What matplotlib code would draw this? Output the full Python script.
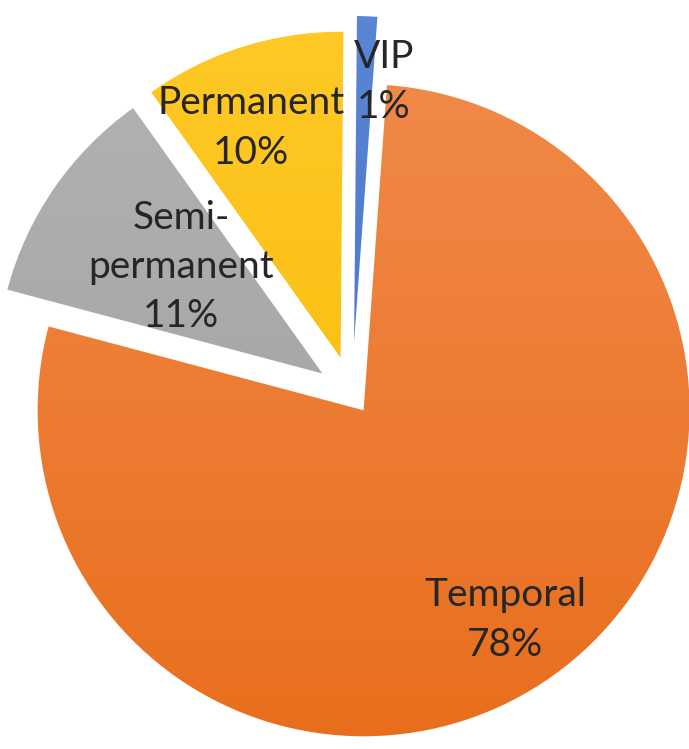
import numpy as np
import matplotlib.pyplot as plt
from matplotlib.colors import LinearSegmentedColormap

# slice data, clockwise from 12 o'clock
categories = ["VIP", "Temporal", "Semi-\npermanent", "Permanent"]
shares = [1, 78, 11, 10]

# look
top_colors = ["#5A86D6", "#F28C4E", "#B4B4B4", "#FFC928"]
bottom_colors = ["#3F6CC0", "#E86E1C", "#9C9C9C", "#F5B800"]
explode_px = [52, 20, 36, 38]   # pie explode is in data units here
label_pos = [(384, 82), (505, 620), (181, 267), (251, 128)]

W, H = 689, 749
fig = plt.figure(figsize=(W / 100, H / 100), dpi=100)
ax = fig.add_axes([0, 0, 1, 1])

wedges, _ = ax.pie(shares, explode=explode_px, startangle=89.5, counterclock=False,
                   radius=326, center=(352, H - 394), colors=bottom_colors,
                   wedgeprops=dict(edgecolor="white", linewidth=1.5))

# vertical gradient fill, clipped to each wedge
grad = np.linspace(0, 1, 256).reshape(-1, 1)
for w, c0, c1 in zip(wedges, top_colors, bottom_colors):
    cmap = LinearSegmentedColormap.from_list("g", [c1, c0])
    img = ax.imshow(grad, extent=(0, W, 0, H), origin="lower", cmap=cmap,
                    aspect="auto", zorder=w.get_zorder() + 0.1)
    img.set_clip_path(w)

for lab, share, (x, y) in zip(categories, shares, label_pos):
    ax.text(x, H - y, f"{lab}\n{share}%", ha="center", va="center",
            fontsize=28, family=["Lato", "DejaVu Sans"], color="#262626",
            linespacing=1.45, zorder=10)

ax.set_xlim(0, W)
ax.set_ylim(0, H)
ax.axis("off")

fig.savefig("out.png", dpi=100)
